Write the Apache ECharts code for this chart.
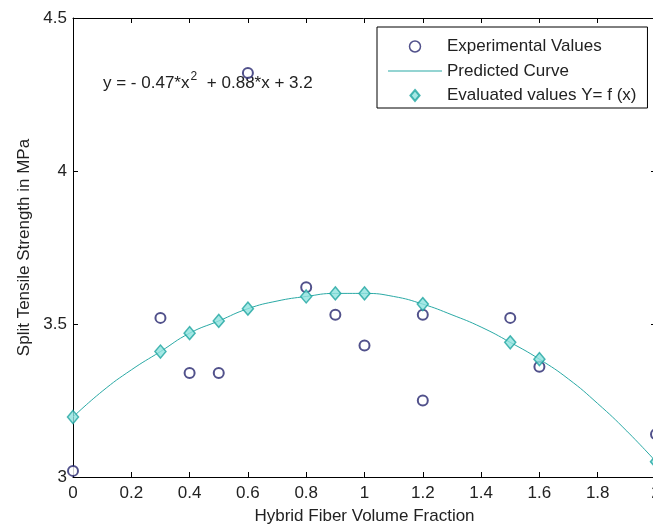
<!DOCTYPE html>
<html>
<head>
<meta charset="utf-8">
<script src="https://cdn.jsdelivr.net/npm/echarts@6/dist/echarts.min.js"></script>
<style>
  html, body { margin: 0; padding: 0; background: #fff; }
  #chart { width: 653px; height: 528px; }
</style>
</head>
<body>
<div id="chart"></div>
<script>
var expX = [0, 0.3, 0.4, 0.5, 0.6, 0.8, 0.9, 1.0, 1.2, 1.2, 1.5, 1.6, 2.0];
var expY = [3.02, 3.52, 3.34, 3.34, 4.32, 3.62, 3.53, 3.43, 3.53, 3.25, 3.52, 3.36, 3.14];

// evaluated values Y = f(x)
var evalX = [0, 0.3, 0.4, 0.5, 0.6, 0.8, 0.9, 1.0, 1.2, 1.5, 1.6, 2.0];
var evalY = [3.196, 3.41, 3.47, 3.51, 3.55, 3.59, 3.60, 3.60, 3.565, 3.44, 3.385, 3.05];

// predicted curve, every 0.1
var curveX = [0, 0.1, 0.2, 0.3, 0.4, 0.5, 0.6, 0.7, 0.8, 0.9, 1.0, 1.1, 1.2, 1.3, 1.4, 1.5, 1.6, 1.7, 1.8, 1.9, 2.0];
var curveY = [3.196, 3.28, 3.35, 3.41, 3.47, 3.51, 3.55, 3.575, 3.59, 3.60, 3.60, 3.59, 3.565, 3.53, 3.49, 3.44, 3.385, 3.32, 3.24, 3.15, 3.05];

var yTicks = [3, 3.5, 4, 4.5];

function pairs(xs, ys) {
    return xs.map(function (x, i) { return [x, ys[i]]; });
}

var myChart = echarts.init(document.getElementById('chart'));

var font = 'Liberation Sans, Arial, sans-serif';
var txt = '#222';
var navy = '#25256e';
var teal = '#2aa9a5';

var axisCommon = {
    axisLine: { show: true, onZero: false, lineStyle: { color: '#000', width: 1 } },
    axisTick: { show: true, inside: true, length: 5, lineStyle: { color: '#000' } },
    splitLine: { show: false }
};

var option = {
    backgroundColor: '#fff',
    animation: false,
    textStyle: { fontFamily: font },
    grid: { left: 73, top: 18, bottom: 51, right: -3, containLabel: false, outerBoundsMode: 'none' },
    legend: {
        orient: 'vertical',
        left: 377,
        top: 27,
        padding: [11, 11, 4, 11],
        itemWidth: 54,
        itemHeight: 11,
        itemGap: 7.5,
        borderColor: '#000',
        borderWidth: 1,
        backgroundColor: '#fff',
        textStyle: { color: txt, fontSize: 17, fontFamily: font, lineHeight: 17 },
        data: [
            { name: 'Experimental Values', icon: 'circle',
              itemStyle: { color: '#fff', borderColor: navy, borderWidth: 1.5 } },
            { name: 'Predicted Curve', icon: 'path://M0,0 L54,0 L54,1 L0,1 Z',
              itemStyle: { color: teal, borderWidth: 0 } },
            { name: 'Evaluated values Y= f (x)', icon: 'path://M5,0 L10,6 L5,12 L0,6 Z',
              itemStyle: { color: '#8fe2de', borderColor: '#1fa5a0', borderWidth: 2 } }
        ]
    },
    xAxis: [
        Object.assign({
            type: 'value', min: 0, max: 2, interval: 0.2, position: 'bottom',
            name: 'Hybrid Fiber Volume Fraction', nameLocation: 'middle', nameGap: 31,
            nameTextStyle: { color: txt, fontSize: 17, fontFamily: font },
            axisLabel: {
                color: txt, fontSize: 17, fontFamily: font, margin: 8,
                formatter: function (v) { return String(Math.round(v * 10) / 10); }
            }
        }, axisCommon),
        Object.assign({
            type: 'value', min: 0, max: 2, interval: 0.2, position: 'top',
            axisLabel: { show: false }
        }, axisCommon)
    ],
    yAxis: [
        Object.assign({
            type: 'value', min: 3, max: 4.5, interval: 0.5, position: 'left',
            name: 'Split Tensile Strength in MPa', nameLocation: 'middle', nameGap: 40,
            nameTextStyle: { color: txt, fontSize: 17, fontFamily: font },
            axisLabel: {
                color: txt, fontSize: 17, fontFamily: font, margin: 6,
                formatter: function (v) { return yTicks.indexOf(v) >= 0 ? String(v) : ''; }
            }
        }, axisCommon),
        Object.assign({
            type: 'value', min: 3, max: 4.5, interval: 0.5, position: 'right',
            axisLabel: { show: false }
        }, axisCommon)
    ],
    graphic: [{
        type: 'text',
        left: 103,
        top: 71,
        style: {
            text: '{a|y = - 0.47*x}{s|2}{a| + 0.88*x + 3.2}',
            rich: {
                a: { fontSize: 17, fontFamily: font, fill: txt, lineHeight: 21, verticalAlign: 'bottom' },
                s: { fontSize: 12, fontFamily: font, fill: txt, lineHeight: 21, verticalAlign: 'top', padding: [0, 5, 0, 1] }
            }
        },
        z: 0
    }],
    series: [
        {
            name: 'Experimental Values',
            type: 'scatter',
            symbol: 'emptyCircle',
            symbolSize: 10,
            itemStyle: { color: navy, borderWidth: 1 },
            data: pairs(expX, expY),
            z: 3
        },
        {
            name: 'Predicted Curve',
            type: 'line',
            smooth: true,
            symbol: 'none',
            lineStyle: { color: teal, width: 1 },
            itemStyle: { color: teal },
            data: pairs(curveX, curveY),
            z: 4
        },
        {
            name: 'Evaluated values Y= f (x)',
            type: 'scatter',
            symbol: 'diamond',
            symbolSize: [11, 13],
            itemStyle: { color: '#8fe2de', borderColor: '#1fa5a0', borderWidth: 1.5 },
            data: pairs(evalX, evalY),
            z: 5
        }
    ]
};

myChart.setOption(option);
</script>
</body>
</html>
